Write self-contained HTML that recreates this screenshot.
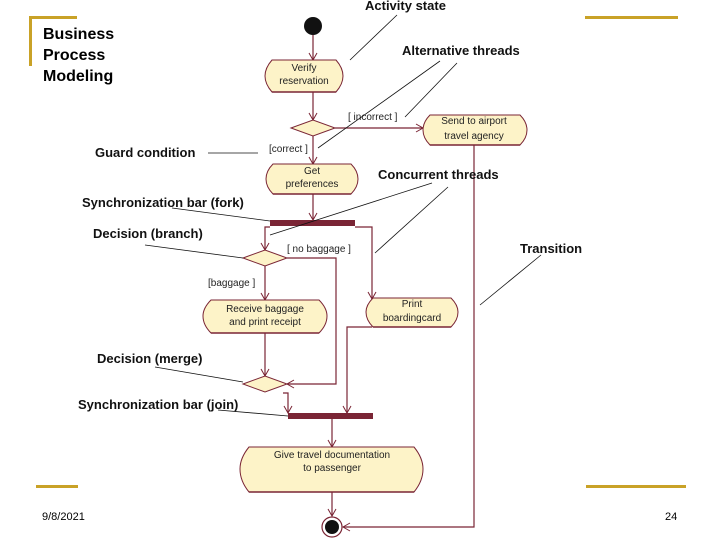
<!DOCTYPE html>
<html><head><meta charset="utf-8"><style>
html,body{margin:0;padding:0;background:#fff}
svg{display:block}
text{font-family:"Liberation Sans",Arial,sans-serif}
.n{font-size:10px;fill:#222}
.a{font-size:13px;font-weight:bold;fill:#111}
.g{font-size:10px;fill:#222}
</style></head><body>
<svg width="720" height="540" viewBox="0 0 720 540" xmlns="http://www.w3.org/2000/svg">
<defs>
<marker id="ar" markerWidth="10" markerHeight="10" refX="8" refY="5" orient="auto" markerUnits="userSpaceOnUse">
<path d="M1,1 L8,5 L1,9" fill="none" stroke="#7a2535" stroke-width="1"/>
</marker>
</defs>
<!-- gold decorations -->
<g fill="#c9a227">
<rect x="29" y="16" width="48" height="3"/>
<rect x="29" y="16" width="3" height="50"/>
<rect x="585" y="16" width="93" height="3"/>
<rect x="36" y="485" width="42" height="3"/>
<rect x="586" y="485" width="100" height="3"/>
</g>
<text x="43" y="39" style="font-size:16px;font-weight:bold">Business</text>
<text x="43" y="60" style="font-size:16px;font-weight:bold">Process</text>
<text x="43" y="81" style="font-size:16px;font-weight:bold">Modeling</text>
<text x="42" y="520" style="font-size:11px">9/8/2021</text>
<text x="665" y="520" style="font-size:11px">24</text>

<!-- connectors -->
<g stroke="#7a2535" stroke-width="1.2" fill="none">
<line x1="313" y1="35" x2="313" y2="60" marker-end="url(#ar)"/>
<line x1="313" y1="92" x2="313" y2="120" marker-end="url(#ar)"/>
<line x1="335" y1="128" x2="423" y2="128" marker-end="url(#ar)"/>
<line x1="313" y1="136" x2="313" y2="164" marker-end="url(#ar)"/>
<line x1="313" y1="194" x2="313" y2="220" marker-end="url(#ar)"/>
<polyline points="270,227 265,227 265,250" marker-end="url(#ar)"/>
<polyline points="355,227 372,227 372,299" marker-end="url(#ar)"/>
<line x1="265" y1="266" x2="265" y2="300" marker-end="url(#ar)"/>
<polyline points="287,258 336,258 336,384 287,384" marker-end="url(#ar)"/>
<line x1="265" y1="333" x2="265" y2="376" marker-end="url(#ar)"/>
<polyline points="283,393 288,393 288,413" marker-end="url(#ar)"/>
<polyline points="372,327 347,327 347,413" marker-end="url(#ar)"/>
<line x1="332" y1="419" x2="332" y2="447" marker-end="url(#ar)"/>
<line x1="332" y1="492" x2="332" y2="516" marker-end="url(#ar)"/>
<polyline points="474,145 474,527 343,527" marker-end="url(#ar)"/>
</g>

<!-- nodes -->
<circle cx="313" cy="26" r="9" fill="#111"/>
<g fill="#fdf3c8" stroke="#7a2535" stroke-width="1">
<path d="M272,60 H336 Q343,68 343,76 Q343,84 336,92 H272 Q265,84 265,76 Q265,68 272,60 Z"/>
<path d="M430,115 H520 Q527,122 527,130 Q527,138 520,145 H430 Q423,138 423,130 Q423,122 430,115 Z"/>
<path d="M273,164 H351 Q358,171 358,179 Q358,187 351,194 H273 Q266,187 266,179 Q266,171 273,164 Z"/>
<path d="M211,300 H319 Q327,308 327,316 Q327,325 319,333 H211 Q203,325 203,316 Q203,308 211,300 Z"/>
<path d="M373,298 H451 Q458,305 458,312 Q458,320 451,327 H373 Q366,320 366,312 Q366,305 373,298 Z"/>
<path d="M249,447 H414 Q423,458 423,469 Q423,481 414,492 H249 Q240,481 240,469 Q240,458 249,447 Z"/>
<polygon points="291,128 313,120 335,128 313,136"/>
<polygon points="243,258 265,250 287,258 265,266"/>
<polygon points="243,384 265,376 287,384 265,392"/>
</g>
<g stroke="#7a2535" stroke-width="1.5">
<line x1="272" y1="92" x2="336" y2="92"/><line x1="430" y1="145" x2="520" y2="145"/>
<line x1="273" y1="194" x2="351" y2="194"/><line x1="211" y1="333" x2="319" y2="333"/>
<line x1="373" y1="327" x2="451" y2="327"/><line x1="249" y1="492" x2="414" y2="492"/>
</g>
<rect x="270" y="220" width="85" height="6" fill="#7a2535"/>
<rect x="288" y="413" width="85" height="6" fill="#7a2535"/>
<circle cx="332" cy="527" r="10" fill="#fff" stroke="#7a2535" stroke-width="1.2"/>
<circle cx="332" cy="527" r="7" fill="#111"/>

<text class="n" x="304" y="71" text-anchor="middle">Verify</text>
<text class="n" x="304" y="84" text-anchor="middle">reservation</text>
<text class="n" x="474" y="124" text-anchor="middle">Send to airport</text>
<text class="n" x="474" y="139" text-anchor="middle">travel agency</text>
<text class="n" x="312" y="174" text-anchor="middle">Get</text>
<text class="n" x="312" y="187" text-anchor="middle">preferences</text>
<text class="n" x="265" y="312" text-anchor="middle">Receive baggage</text>
<text class="n" x="265" y="325" text-anchor="middle">and print receipt</text>
<text class="n" x="412" y="307" text-anchor="middle">Print</text>
<text class="n" x="412" y="321" text-anchor="middle">boardingcard</text>
<text class="n" x="332" y="458" text-anchor="middle">Give travel documentation</text>
<text class="n" x="332" y="471" text-anchor="middle">to passenger</text>

<text class="g" x="348" y="120">[ incorrect ]</text>
<text class="g" x="269" y="152">[correct ]</text>
<text class="g" x="287" y="252">[ no baggage ]</text>
<text class="g" x="208" y="286">[baggage ]</text>

<!-- annotations -->
<text class="a" x="365" y="10">Activity state</text>
<text class="a" x="402" y="55">Alternative threads</text>
<text class="a" x="95" y="157">Guard condition</text>
<text class="a" x="378" y="179">Concurrent threads</text>
<text class="a" x="82" y="207">Synchronization bar (fork)</text>
<text class="a" x="93" y="238">Decision (branch)</text>
<text class="a" x="520" y="253">Transition</text>
<text class="a" x="97" y="363">Decision (merge)</text>
<text class="a" x="78" y="409">Synchronization bar (join)</text>
<g stroke="#111" stroke-width="0.8" fill="none">
<line x1="397" y1="15" x2="350" y2="60"/>
<line x1="440" y1="61" x2="318" y2="148"/>
<line x1="457" y1="63" x2="405" y2="117"/>
<line x1="208" y1="153" x2="258" y2="153"/>
<line x1="432" y1="183" x2="270" y2="235"/>
<line x1="448" y1="187" x2="375" y2="253"/>
<line x1="172" y1="208" x2="270" y2="221"/>
<line x1="145" y1="245" x2="243" y2="258"/>
<line x1="541" y1="255" x2="480" y2="305"/>
<line x1="155" y1="367" x2="243" y2="382"/>
<line x1="218" y1="410" x2="288" y2="416"/>
</g>
</svg>
</body></html>
